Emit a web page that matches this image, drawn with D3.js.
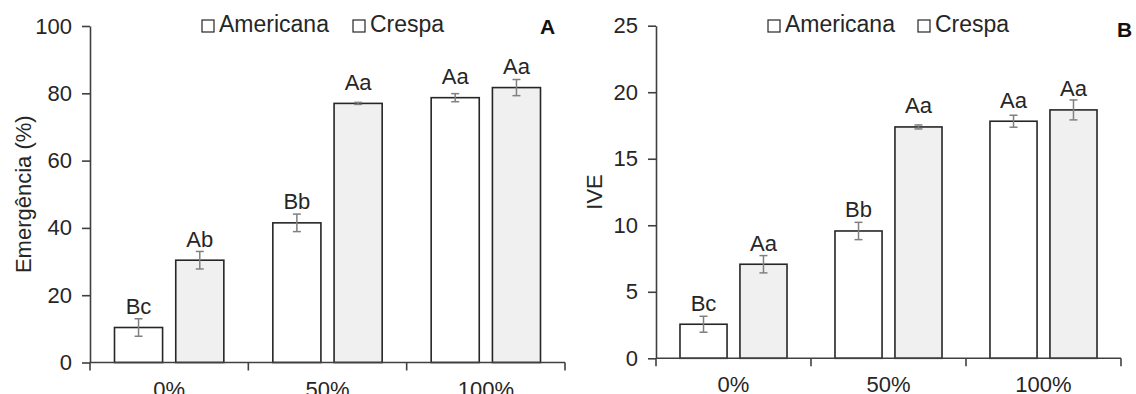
<!DOCTYPE html>
<html>
<head>
<meta charset="utf-8">
<script src="https://cdn.jsdelivr.net/npm/d3@7"></script>
<style>
  html, body { margin: 0; padding: 0; background: #fff; }
  svg { display: block; font-family: "Liberation Sans", Arial, sans-serif; }
</style>
</head>
<body>
<svg id="chart" width="1136" height="394"></svg>
<script>
// Substrate proportion (categories) and lettuce cultivars (series)
const categories = ["0%", "50%", "100%"];
const series = ["Americana", "Crespa"];

// Emergência (%)
const emergAmericana = [10.4, 41.5, 78.7];
const emergAmericanaErr = [2.6, 2.6, 1.2];
const emergCrespa = [30.4, 77.0, 81.7];
const emergCrespaErr = [2.6, 0.3, 2.4];
const emergAmericanaLetters = ["Bc", "Bb", "Aa"];
const emergCrespaLetters = ["Ab", "Aa", "Aa"];
const emergTicks = [0, 20, 40, 60, 80, 100];

// IVE (índice de velocidade de emergência)
const iveAmericana = [2.56, 9.57, 17.82];
const iveAmericanaErr = [0.6, 0.65, 0.45];
const iveCrespa = [7.07, 17.39, 18.67];
const iveCrespaErr = [0.65, 0.15, 0.75];
const iveAmericanaLetters = ["Bc", "Bb", "Aa"];
const iveCrespaLetters = ["Aa", "Aa", "Aa"];
const iveTicks = [0, 5, 10, 15, 20, 25];

const fills = { Americana: "#ffffff", Crespa: "#f0f0f0" };
const ink = "#262626";
const axisInk = "#404040";
const errInk = "#808080";
const fontSize = 21;

const svg = d3.select("#chart");

function drawPanel(p) {
  const g = svg.append("g");
  const y = d3.scaleLinear().domain([0, p.ticks[p.ticks.length - 1]]).range([p.bottom, p.top]);
  const x0 = d3.scaleBand().domain(categories).range([p.left, p.right]).paddingInner(0).paddingOuter(0);
  const x1 = d3.scaleBand().domain(series).range([0, x0.bandwidth()]).paddingInner(0.215).paddingOuter(0.4);

  const rows = [];
  categories.forEach((c, i) => {
    series.forEach((s, j) => {
      rows.push({
        cat: c, ser: s,
        v: p.values[j][i], e: p.errors[j][i], lab: p.letters[j][i]
      });
    });
  });

  // bars
  g.selectAll("rect.bar").data(rows).join("rect")
    .attr("class", "bar")
    .attr("x", d => x0(d.cat) + x1(d.ser))
    .attr("width", x1.bandwidth())
    .attr("y", d => y(d.v))
    .attr("height", d => y(0) - y(d.v))
    .attr("fill", d => fills[d.ser])
    .attr("stroke", ink)
    .attr("stroke-width", 1.6);

  // error bars
  const cap = 4;
  const eb = g.selectAll("g.err").data(rows).join("g").attr("class", "err")
    .attr("stroke", errInk).attr("stroke-width", 1.5);
  const cx = d => x0(d.cat) + x1(d.ser) + x1.bandwidth() / 2;
  eb.append("line").attr("x1", cx).attr("x2", cx)
    .attr("y1", d => y(d.v + d.e)).attr("y2", d => y(d.v - d.e));
  eb.append("line").attr("x1", d => cx(d) - cap).attr("x2", d => cx(d) + cap)
    .attr("y1", d => y(d.v + d.e)).attr("y2", d => y(d.v + d.e));
  eb.append("line").attr("x1", d => cx(d) - cap).attr("x2", d => cx(d) + cap)
    .attr("y1", d => y(d.v - d.e)).attr("y2", d => y(d.v - d.e));

  // significance letters
  g.selectAll("text.lab").data(rows).join("text")
    .attr("class", "lab")
    .attr("x", cx)
    .attr("y", d => y(d.v) - 13.5)
    .attr("text-anchor", "middle")
    .attr("font-size", fontSize + 1)
    .attr("fill", ink)
    .text(d => d.lab);

  // y axis
  const yAxis = d3.axisLeft(y).tickValues(p.ticks).tickSize(8).tickPadding(10).tickSizeOuter(0);
  const ya = g.append("g").attr("transform", `translate(${p.left},0)`).call(yAxis);
  ya.select(".domain").attr("stroke", axisInk).attr("stroke-width", 1.6);
  ya.selectAll(".tick line").attr("stroke", axisInk).attr("stroke-width", 1.6);
  ya.selectAll(".tick text").attr("font-size", fontSize + 1).attr("fill", ink)
    .attr("font-family", "Liberation Sans, Arial, sans-serif");

  // x axis with ticks at category boundaries
  const bounds = categories.map(c => x0(c)).concat([p.right]);
  g.append("line").attr("x1", p.left).attr("x2", p.right)
    .attr("y1", p.bottom).attr("y2", p.bottom)
    .attr("stroke", axisInk).attr("stroke-width", 1.6);
  g.selectAll("line.xt").data(bounds).join("line").attr("class", "xt")
    .attr("x1", d => d).attr("x2", d => d)
    .attr("y1", p.bottom).attr("y2", p.bottom + 8)
    .attr("stroke", axisInk).attr("stroke-width", 1.6);
  g.selectAll("text.cat").data(categories).join("text").attr("class", "cat")
    .attr("x", c => x0(c) + x0.bandwidth() / 2)
    .attr("y", p.bottom + 34)
    .attr("text-anchor", "middle")
    .attr("font-size", fontSize + 1)
    .attr("fill", ink)
    .text(c => c);

  // y axis title
  g.append("text")
    .attr("transform", `translate(${p.titleX},${(p.top + p.bottom) / 2}) rotate(-90)`)
    .attr("text-anchor", "middle")
    .attr("font-size", fontSize + 1)
    .attr("fill", ink)
    .text(p.title);

  // legend
  const lg = g.append("g");
  series.forEach((s, j) => {
    const lx = p.legendX[j];
    lg.append("rect").attr("x", lx).attr("y", 20).attr("width", 12).attr("height", 12)
      .attr("fill", "#fff").attr("stroke", ink).attr("stroke-width", 1.2);
    lg.append("text").attr("x", lx + 17).attr("y", 32)
      .attr("font-size", fontSize + 2).attr("fill", ink).text(s);
  });

  // panel letter
  g.append("text").attr("x", p.tagX).attr("y", p.tagY)
    .attr("font-size", fontSize).attr("font-weight", "bold").attr("fill", "#111")
    .text(p.tag);
}

drawPanel({
  left: 90, right: 565, top: 26, bottom: 362.5,
  ticks: emergTicks,
  values: [emergAmericana, emergCrespa],
  errors: [emergAmericanaErr, emergCrespaErr],
  letters: [emergAmericanaLetters, emergCrespaLetters],
  title: "Emergência (%)", titleX: 31,
  legendX: [202, 353], tag: "A", tagX: 540, tagY: 34
});

drawPanel({
  left: 656, right: 1121, top: 25.7, bottom: 358.3,
  ticks: iveTicks,
  values: [iveAmericana, iveCrespa],
  errors: [iveAmericanaErr, iveCrespaErr],
  letters: [iveAmericanaLetters, iveCrespaLetters],
  title: "IVE", titleX: 602,
  legendX: [768, 918], tag: "B", tagX: 1117, tagY: 37
});
</script>
</body>
</html>
